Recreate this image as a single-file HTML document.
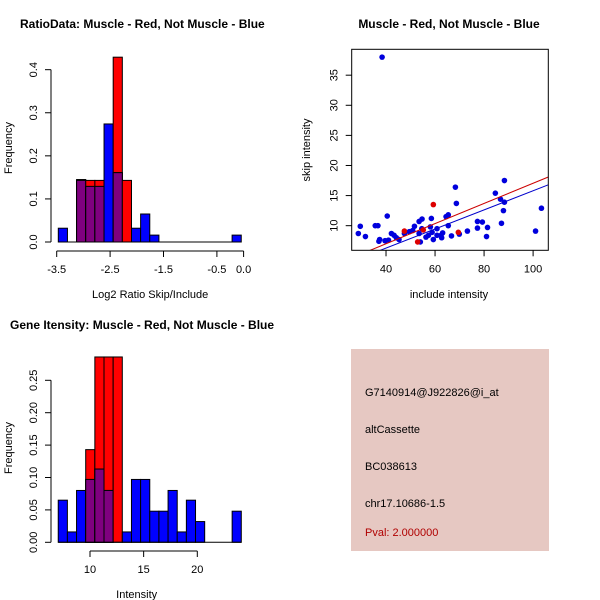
<!DOCTYPE html>
<html><head><meta charset="utf-8"><style>
html,body{margin:0;padding:0;background:#fff}
svg{display:block;font-family:"Liberation Sans",sans-serif}
</style></head><body>
<svg id="s" width="600" height="600" xmlns="http://www.w3.org/2000/svg">
<rect width="600" height="600" fill="#fff"/>
<text x="20" y="28" font-size="12" font-weight="bold">RatioData: Muscle - Red, Not Muscle - Blue</text>
<text x="449" y="28" font-size="12" font-weight="bold" text-anchor="middle">Muscle - Red, Not Muscle - Blue</text>
<text x="10" y="329" font-size="12" font-weight="bold">Gene Itensity: Muscle - Red, Not Muscle - Blue</text>
<g>
<rect x="351" y="349" width="198" height="202" fill="#e6c8c2"/>
<text x="365" y="396" font-size="11">G7140914@J922826@i_at</text>
<text x="365" y="433" font-size="11">altCassette</text>
<text x="365" y="470" font-size="11">BC038613</text>
<text x="365" y="507" font-size="11">chr17.10686-1.5</text>
<text x="365" y="536" font-size="11" fill="#b00000">Pval: 2.000000</text>
</g>
</svg>
<script>
// ---- Histogram 1 data (log2 ratio) ----
const ratioStart = -3.47;
const ratioBinWidth = 0.1713;
const ratioBlue = [0.032,0,0.145,0.129,0.129,0.274,0.161,0,0.032,0.065,0.016,0,0,0,0,0,0,0,0,0.016];
const ratioRed  = [0,0,0.143,0.143,0.143,0,0.429,0.143,0,0,0,0,0,0,0,0,0,0,0,0];
const ratioXTicks = [-3.5,-2.5,-1.5,-0.5,0.0];
const ratioXTickLabels = ["-3.5","-2.5","-1.5","-0.5","0.0"];
const ratioYTicks = [0,0.1,0.2,0.3,0.4];
const ratioYTickLabels = ["0.0","0.1","0.2","0.3","0.4"];
// ---- Histogram 2 data (intensity) ----
const intStart = 7.04;
const intBinWidth = 0.853;
const intBlue = [0.065,0.016,0.080,0.097,0.113,0.080,0,0.016,0.097,0.097,0.048,0.048,0.080,0.016,0.065,0.032,0,0,0,0.048];
const intRed  = [0,0,0,0.143,0.286,0.286,0.286,0,0,0,0,0,0,0,0,0,0,0,0,0];
const intXTicks = [10,15,20];
const intYTicks = [0,0.05,0.10,0.15,0.20,0.25];
const intYTickLabels = ["0.00","0.05","0.10","0.15","0.20","0.25"];
// ---- Scatter data ----
const blueX = [38.4,28.7,29.5,31.6,35.6,36.7,37.1,37.4,40.5,39.6,41.0,42.2,43.3,44.2,45.3,47.5,49.5,50.9,51.6,53.5,54.7,53.5,54.0,54.6,56.3,57.3,58.1,58.5,58.8,59.3,60.8,60.8,62.4,62.7,63.1,64.5,65.4,65.4,66.7,68.3,68.7,69.9,73.2,77.3,77.3,79.3,81.0,81.4,84.6,86.7,87.1,87.9,88.3,88.3,101.0,103.4];
const blueY = [38.0,8.7,9.9,8.2,10.0,10.0,7.4,7.7,11.6,7.5,7.6,8.7,8.4,8.0,7.7,8.7,9.0,9.2,9.9,10.7,11.1,8.7,7.3,9.5,8.1,8.4,9.8,11.2,8.9,7.7,9.5,8.4,8.4,8.0,8.8,11.5,11.8,10.0,8.3,16.4,13.7,8.6,9.1,10.7,9.6,10.6,8.2,9.7,15.4,14.4,10.4,12.5,13.9,17.5,9.1,12.9];
const redX = [47.5,59.3,52.9,69.5,55.2];
const redY = [9.1,13.5,7.3,8.9,9.3];
const redFit = [0.29,0.1676];   // intercept, slope
const blueFit = [-0.07,0.1587];
const scXTicks = [40,60,80,100];
const scYTicks = [10,15,20,25,30,35];

const NS="http://www.w3.org/2000/svg";
const svg=document.getElementById('s');
function mk(tag,attrs,parent){const e=document.createElementNS(NS,tag);for(const k in attrs)e.setAttribute(k,attrs[k]);(parent||svg).appendChild(e);return e;}

function hist(o){
  const g=mk('g',{});
  
  
  const X=v=>o.x0+(v-o.v0)*o.xs, Y=v=>o.y0-v*o.ys;
  const n=o.blue.length;
  for(let i=0;i<n;i++){
    const a=X(o.start+i*o.bw), b=X(o.start+(i+1)*o.bw);
    const r=o.red[i], bl=o.blue[i];
    if(r>0){const e=mk('rect',{x:a,y:Y(r),width:b-a,height:Y(0)-Y(r),fill:'#ff0000',stroke:'#000','stroke-width':1},g);
      
      }
    if(bl>0){const e=mk('rect',{x:a,y:Y(bl),width:b-a,height:Y(0)-Y(bl),fill:'#0000ff',stroke:'#000','stroke-width':1},g);
      
      }
    const m=Math.min(r,bl);
    if(m>0){const e=mk('rect',{x:a,y:Y(m),width:b-a,height:Y(0)-Y(m),fill:'#7f007f',stroke:'#000','stroke-width':1},g);
      
      }
  }
  mk('line',{x1:X(o.start),x2:X(o.start+n*o.bw),y1:Y(0),y2:Y(0),stroke:'#000'},g);
  const xt=o.xticks;
  mk('line',{x1:X(xt[0]),x2:X(xt[xt.length-1]),y1:o.xaxY,y2:o.xaxY,stroke:'#000'},g);
  xt.forEach((t,i)=>{mk('line',{x1:X(t),x2:X(t),y1:o.xaxY,y2:o.xaxY+6,stroke:'#000'},g);
    const tx=mk('text',{x:X(t),y:o.xaxY+22,'font-size':11,'text-anchor':'middle'},g);tx.textContent=o.xlabels[i];
    
    });
  const yt=o.yticks;
  mk('line',{x1:o.yaxX,x2:o.yaxX,y1:Y(yt[0]),y2:Y(yt[yt.length-1]),stroke:'#000'},g);
  yt.forEach((t,i)=>{mk('line',{x1:o.yaxX-6,x2:o.yaxX,y1:Y(t),y2:Y(t),stroke:'#000'},g);
    const tx=mk('text',{x:0,y:0,'font-size':11,'text-anchor':'middle',transform:`translate(${o.yaxX-14},${Y(t)}) rotate(-90)`},g);tx.textContent=o.ylabels[i];
    
    });
  const xl=mk('text',{x:(X(xt[0])+X(xt[xt.length-1]))/2+o.xlOff,y:o.xaxY+47,'font-size':11,'text-anchor':'middle'},g);xl.textContent=o.xlabel;
  
  
  const yl=mk('text',{x:0,y:0,'font-size':11,'text-anchor':'middle',transform:`translate(12,${o.ylMid}) rotate(-90)`},g);yl.textContent='Frequency';
  
  
}

hist({name:'ratio-histogram',x0:56.7,v0:-3.5,xs:53.4,y0:242,ys:430.8,start:ratioStart,bw:ratioBinWidth,blue:ratioBlue,red:ratioRed,
  xticks:ratioXTicks,xlabels:ratioXTickLabels,yticks:ratioYTicks,ylabels:ratioYTickLabels,xaxY:251,yaxX:51,xlabel:'Log2 Ratio Skip/Include',xlOff:0,ylMid:148});
hist({name:'intensity-histogram',x0:90,v0:10,xs:10.73,y0:542.3,ys:648,start:intStart,bw:intBinWidth,blue:intBlue,red:intRed,
  xticks:intXTicks,xlabels:intXTicks.map(String),yticks:intYTicks,ylabels:intYTickLabels,xaxY:551,yaxX:51,xlabel:'Intensity',xlOff:-7,ylMid:448});

(function(){
  const g=mk('g',{});
  
  
  const L=351.7,R=548.3,T=49.3,B=250.3,xmin=26.0,xmax=106.2,ymin=5.91,ymax=39.3;
  const X=v=>L+(v-xmin)/(xmax-xmin)*(R-L), Y=v=>B-(v-ymin)/(ymax-ymin)*(B-T);
  const cp=mk('clipPath',{id:'cp'},g);mk('rect',{x:L,y:T,width:R-L,height:B-T},cp);
  blueX.forEach((x,i)=>{const c=mk('circle',{cx:X(x),cy:Y(blueY[i]),r:2.8,fill:'#0000dd'},g);
    
    });
  redX.forEach((x,i)=>{const c=mk('circle',{cx:X(x),cy:Y(redY[i]),r:2.8,fill:'#dd0000'},g);
    
    });
  [[redFit,'#cc0000','red-fit-line'],[blueFit,'#0000cc','blue-fit-line']].forEach(([f,col,nm])=>{
    const l=mk('line',{x1:X(xmin),y1:Y(f[0]+f[1]*xmin),x2:X(xmax),y2:Y(f[0]+f[1]*xmax),stroke:col,'stroke-width':1,'clip-path':'url(#cp)'},g);
    
    });
  mk('rect',{x:L,y:T,width:R-L,height:B-T,fill:'none',stroke:'#000'},g);
  scXTicks.forEach(t=>{mk('line',{x1:X(t),x2:X(t),y1:B,y2:B+6,stroke:'#000'},g);
    const tx=mk('text',{x:X(t),y:B+22,'font-size':11,'text-anchor':'middle'},g);tx.textContent=t;
    
    });
  scYTicks.forEach(t=>{mk('line',{x1:L-6,x2:L,y1:Y(t),y2:Y(t),stroke:'#000'},g);
    const tx=mk('text',{x:0,y:0,'font-size':11,'text-anchor':'middle',transform:`translate(${L-14},${Y(t)}) rotate(-90)`},g);tx.textContent=t;
    
    });
  const xl=mk('text',{x:449,y:298,'font-size':11,'text-anchor':'middle'},g);xl.textContent='include intensity';
  
  
  const yl=mk('text',{x:0,y:0,'font-size':11,'text-anchor':'middle',transform:`translate(310,150) rotate(-90)`},g);yl.textContent='skip intensity';
  
  
})();
</script>
</body></html>
